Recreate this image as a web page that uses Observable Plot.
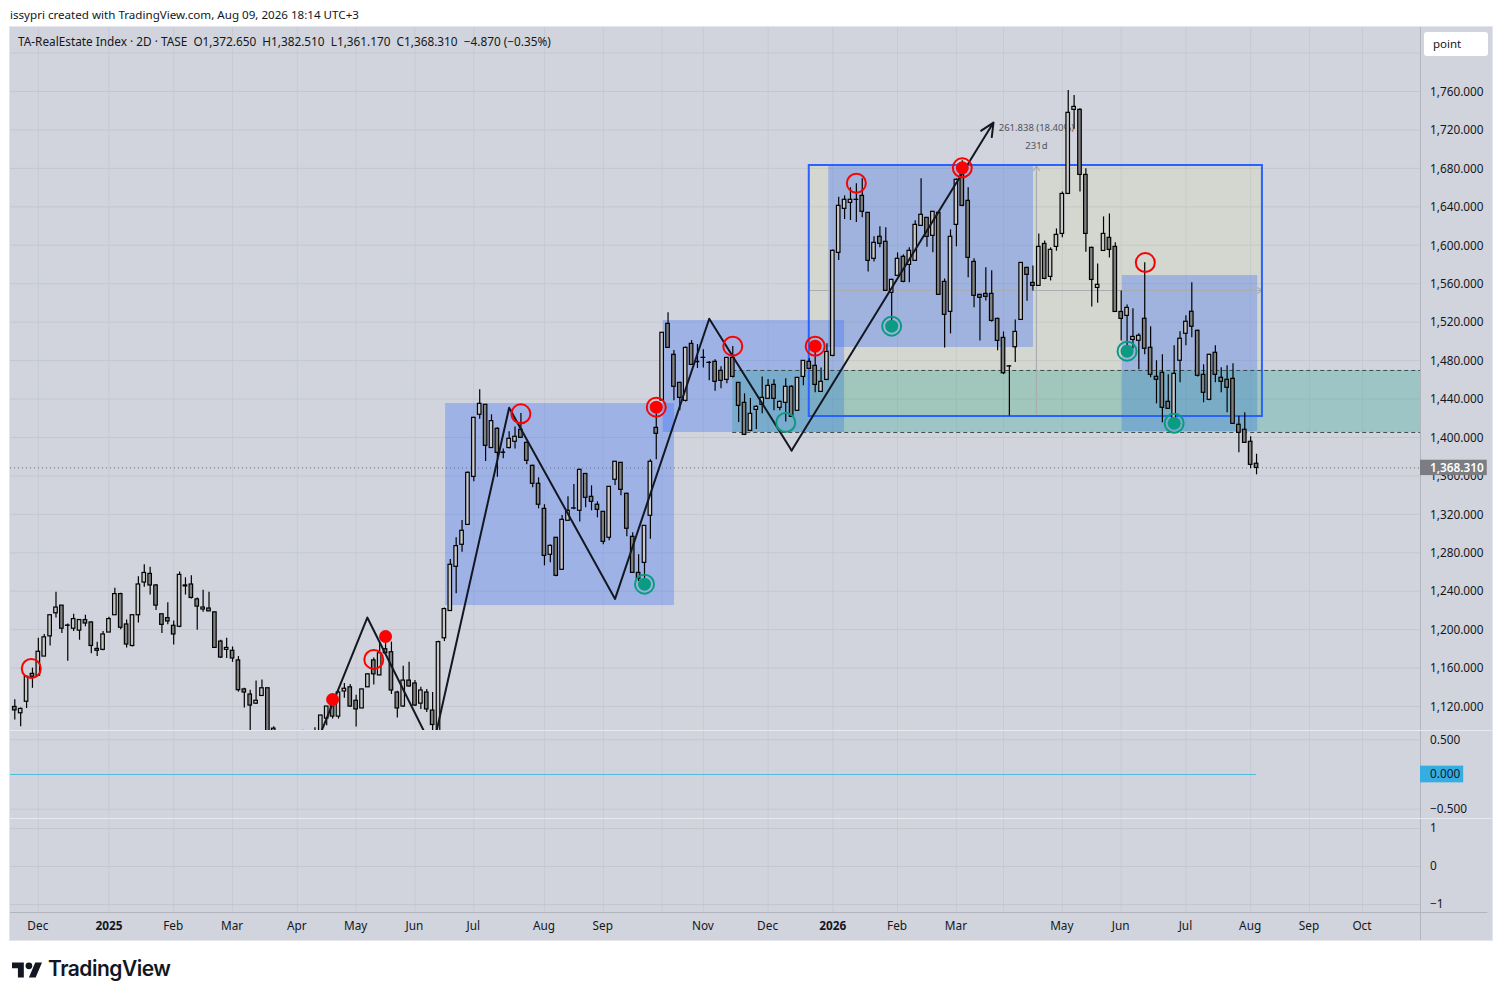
<!DOCTYPE html>
<html>
<head>
<meta charset="utf-8">
<script src="https://cdn.jsdelivr.net/npm/d3@7"></script>
<script src="https://cdn.jsdelivr.net/npm/@observablehq/plot@0.6"></script>
<style>
  html,body{margin:0;padding:0;background:#fff;width:1502px;height:1000px;overflow:hidden;font-family:"Noto Sans",sans-serif;color:#131722}
  .abs{position:absolute}
  #bg{left:10px;top:27px;width:1482px;height:913px;background:#d1d4dc;outline:1px solid #e4e6ec}
  #credit{left:10px;top:7px;font-size:11.6px;white-space:pre}
  #legend{left:18px;top:33px;font-size:11.8px;white-space:pre}
  #btn{left:1424px;top:32px;width:64px;height:24px;background:#fff;border-radius:3px;font-size:11.5px;line-height:24px;text-indent:9px}
  #brand{left:48px;top:956px;font:600 21px Inter,sans-serif;letter-spacing:-.5px}
  #logo{left:12px;top:962px}
  .sep{left:10px;width:1482px;height:1px;background:#e8e9f0}
  svg.p{position:absolute;left:0;background:transparent}
</style>
</head>
<body>
<div id="bg" class="abs"></div>
<div id="credit" class="abs">issypri created with TradingView.com, Aug 09, 2026 18:14 UTC+3</div>
<div id="host"></div>
<div class="abs sep" style="top:730px"></div>
<div class="abs sep" style="top:818px"></div>
<div id="legend" class="abs">TA-RealEstate Index · 2D · TASE  O1,372.650  H1,382.510  L1,361.170  C1,368.310  −4.870 (−0.35%)</div>
<div id="btn" class="abs">point</div>
<svg id="logo" class="abs" width="30" height="16" viewBox="0 4 35.5 18"><path fill="#131722" d="M14 22H7V11H0V4h14v18zM28 22h-8l7.5-18h8L28 22z"/><circle fill="#131722" cx="20" cy="8" r="4"/></svg>
<div id="brand" class="abs">TradingView</div>
<script>
const opens=[1119.6,1113,1125,1154,1152,1172,1193,1217,1225,1204.3,
1201,1199,1210,1207.5,1180,1179,1197,1215,1237,1205.4,
1183,1215,1249,1258,1246,1216,1212,1204,1203,1246,
1247,1231.5,1221,1222,1218,1187.6,1179,1178,1168,1137.8,
1132.5,1123,1131,1139,1097,1092,1083,1076,1080,1078,
1074,1075,1090,1107.4,1124,1109.5,1135.7,1140,1126,1118,
1140,1168,1152.4,1179.6,1176.5,1134.6,1120,1147,1144,1123,
1134.6,1115.8,1090,1191,1219.4,1265.4,1288.3,1309,1359,1423.6,
1434,1389,1409,1384.3,1389,1395.5,1408,1394.4,1370.5,1351.8,
1325.7,1277.9,1295.6,1262.3,1313.3,1326,1323.7,1362,1338.2,1330,
1322.6,1295.6,1356,1373.6,1341.4,1296.6,1259.1,1269.5,1318.5,1410,
1438.4,1518.2,1486,1456.8,1438.1,1497.4,1478.7,1482.9,1477.7,1478.7,
1469.3,1459.9,1482.8,1456.8,1436,1406.9,1428.7,1433.9,1440.2,1454.7,
1430.8,1436,1452.7,1427.7,1463,1478.7,1474.5,1447.4,1459.9,1484.9,
1592.1,1637.9,1644.1,1647.3,1651.4,1633.7,1585.9,1608.8,1603.6,1550.5,
1568.2,1588,1579.6,1583.8,1620.2,1628.5,1609.8,1633.7,1561.9,1530.7,
1621.2,1674.3,1646.2,1582.7,1548.4,1549.4,1549.4,1523.4,1503.6,1474,
1493.9,1522.3,1576.4,1560.8,1557.7,1601.4,1567.1,1598.3,1611.8,1653.4,
1740.9,1740.9,1673.2,1597.3,1555.6,1594.1,1607.7,1598.3,1530.6,1526.5,
1501.5,1500.6,1523.5,1493.3,1463.1,1467.3,1437.1,1419.4,1479.8,1507.9,
1530.8,1511,1465.2,1439.2,1488.1,1462.1,1460,1461,1413.2,1408,
1395.5,1372.65];
const highs=[1127,1118.6,1151,1160,1191,1195,1215,1239,1225,1206,
1216,1210,1215,1208,1187,1198,1213,1243,1238,1210,
1215,1255,1267.5,1265,1247,1216,1228,1209,1260,1254,
1256,1233,1241,1239,1218,1189,1191,1182,1172,1139,
1137,1146.5,1147.5,1139,1099,1094,1088,1084,1088,1090,
1086,1098,1111,1120,1126,1137,1144,1143,1131.8,1138,
1154,1170.5,1187,1187,1187,1136,1161.8,1166,1147,1140,
1137.8,1134.6,1188,1222.5,1273,1295.6,1313.6,1364,1421,1449.6,
1434,1423.6,1410,1388,1406,1411,1425,1395,1371,1358,
1330,1288,1296,1318.8,1338.2,1351,1367,1362.5,1349.7,1333,
1323,1349,1375,1374,1342,1300.8,1277.9,1308,1376.7,1424.6,
1509,1529.7,1490.5,1457.5,1494,1500.9,1496.7,1491.2,1479,1480.8,
1473.5,1483,1494.6,1457,1445.4,1440.5,1433,1463,1460.3,1460,
1438,1461,1453.7,1462.5,1480,1481.8,1495.7,1472.4,1497.4,1595,
1650,1651.4,1659.8,1663.9,1669.1,1634,1608.8,1619.2,1618.1,1564.5,
1592.1,1590,1597.3,1625.4,1669.1,1629,1635,1634,1565,1616,
1669,1688,1659.8,1585.9,1549,1576.5,1573.4,1524,1509.8,1475,
1522.3,1582,1577,1578.5,1611.8,1604.5,1597.3,1617,1655.5,1761,
1755.8,1742,1679.5,1598,1580.6,1629.5,1632.6,1602.5,1552.5,1537.9,
1533.9,1507.9,1581.8,1515.2,1479.8,1486,1465.2,1495.4,1510,1526.6,
1560.9,1511.5,1475.6,1486.5,1495.4,1472.5,1474.6,1476.7,1422,1425.7,
1400.7,1382.51];
const lows=[1106,1099,1118,1139,1152,1172,1183,1212,1196,1167,
1198,1189,1203,1175,1172,1178,1197,1215,1200,1181,
1182,1207,1244,1236,1220,1196,1205,1184,1202,1236,
1232,1199.5,1218,1219,1181,1170,1170,1166,1135,1118.6,
1090,1122,1131,1080,1085,1078,1072,1068,1074,1070,
1066,1070,1085,1100,1107,1107,1128.7,1119,1098.7,1118,
1140,1142.3,1152,1175,1132.5,1108,1119,1140,1120,1117,
1113.7,1095,1085,1187.6,1219,1237.3,1280.6,1309,1353.8,1419,
1375,1389,1358.7,1377.8,1388,1388,1399,1371.5,1347.6,1325.7,
1266.4,1269.5,1255,1262,1313,1324.7,1311.9,1326.8,1323.7,1316.4,
1288.3,1292.4,1350,1339.3,1296.6,1259,1250,1253,1294.2,1376.7,
1438,1493,1438.1,1427.7,1437,1475,1471.7,1472.4,1458.9,1448.1,
1450.6,1455.8,1462,1415.5,1402,1406,1408.3,1424.6,1440,1427.7,
1427.7,1416.2,1421,1427,1453.7,1471,1446.4,1447,1459,1484,
1584.1,1626.8,1625.8,1623.7,1628.5,1572.3,1582.7,1597.3,1552,1520,
1568,1561,1560.9,1583,1620,1598,1592.1,1548,1493.2,1507.8,
1598.4,1640,1566.1,1534.9,1500.5,1542,1520,1490.1,1465.4,1422.4,
1477.9,1522,1541.7,1552.5,1557,1564,1562.9,1593.8,1607.7,1653,
1720.8,1655.5,1592.7,1535.8,1539.7,1594,1586.8,1530,1500.5,1495.6,
1492.1,1470.4,1486,1462.1,1435,1415.3,1429,1417.7,1456.9,1495.4,
1503.7,1462.8,1436.1,1438.2,1456.9,1446.5,1425.7,1414,1384,1394,
1367.4,1361.17];
const closes=[1116,1117.5,1151,1151,1177,1192,1215,1223,1201,1204,
1211,1210,1206.4,1183,1178,1195,1211,1237,1202,1184.5,
1215,1247,1259,1246,1225,1205,1208.5,1195,1257,1245,
1233,1224,1223,1219,1181,1171,1181,1170,1137,1134.6,
1121,1126,1139,1085,1094,1082,1076,1080,1078,1074,
1082,1085,1110.6,1120,1109.5,1134.6,1138.5,1120,1117,1137.8,
1153.5,1153.5,1175.4,1175.4,1136.7,1118,1147,1140.9,1121,1136.7,
1117,1100.8,1187,1221.4,1267.5,1286.9,1302.9,1363.2,1420.4,1435,
1391.3,1417,1384,1384,1398.6,1400.7,1399.6,1375.7,1351.8,1330,
1276.8,1287.2,1256,1314.3,1323.7,1326.2,1366.3,1337.2,1333,1324.7,
1291.4,1348.6,1374.7,1345.5,1305,1259.1,1252.9,1308,1374.7,1403.8,
1508.9,1493.2,1452.7,1441.2,1493.2,1475.5,1478.3,1482.8,1477.6,1457.9,
1458.9,1482.8,1463,1432.9,1402.7,1424.6,1431.8,1441.2,1453.7,1440.2,
1437,1452.7,1421.4,1462,1479.7,1471.4,1454.7,1457.9,1489,1594.2,
1641,1647.3,1647.3,1647.2,1634.8,1583.8,1602.5,1601.5,1552.6,1564,
1585.9,1561.9,1594.2,1621.2,1631.7,1608.8,1634.8,1548.4,1527.6,1608.8,
1668.1,1641,1586.9,1547.4,1545.3,1546.3,1521.3,1500.5,1466.8,1473.8,
1509.8,1581.6,1569.2,1557.7,1598.3,1565,1595.2,1610.8,1653.4,1737.8,
1744,1673.2,1611.8,1563.9,1558.8,1611.8,1595.2,1530.6,1523.4,1534.8,
1504.6,1505.8,1492.3,1465.2,1460,1430.9,1429.8,1466.2,1502.7,1520.4,
1515.2,1464.2,1446.5,1486,1465.2,1457.9,1451.7,1414.2,1404.8,1394.4,
1371.5,1368.31];

// time axis: bar index of each month tick and its label
const tickBars=[4,16,27,37,48,58,68,78,90,100,110,117,128,139,150,160,168,178,188,199,210,220,229];
const tickLabels=["Dec","2025","Feb","Mar","Apr","May","Jun","Jul","Aug","Sep","","Nov","Dec","2026","Feb","Mar","","May","Jun","Jul","Aug","Sep","Oct"];

const priceTicks=[1120,1160,1200,1240,1280,1320,1360,1400,1440,1480,1520,1560,1600,1640,1680,1720,1760];
const priceGridExtra=[1800];

// blue zones
const zoneStart=[73.2,110.2,138.3,188.2];
const zoneEnd=[112.1,141,173.1,211.2];
const zoneLow=[1225.1,1405.2,1493.6,1406.2];
const zoneHigh=[1435.3,1521.7,1683,1568.5];

// teal zone and framed range
const tealStart=122, tealLow=1405.2, tealHigh=1469.7;
const frameStart=135, frameEnd=212, frameLow=1421.8, frameHigh=1683;
const measureBar=173.6, measurePrice=1552.9;

// zigzag pattern
const zigBars=[48,59.9,71,84,102,118,132,166.3];
const zigPrices=[1032,1212.6,1076.3,1431,1232,1523.5,1386.4,1727.7];

// signal markers
const ringBars=[2.8,61,86,122,143,192.1,109,136,161];
const ringPrices=[1159.6,1169,1424.6,1495,1664.6,1582,1431.5,1495,1680.6];
const dotBars=[54,63,49,109,136,161];
const dotPrices=[1127.3,1192.9,1089,1431.5,1495,1680.6];
const greenRingBars=[107,149,189,197,131];
const greenRingPrices=[1247.3,1515.8,1489.8,1414.8,1415.6];
const greenDotBars=[107,149,189,197];
const greenDotPrices=[1247.3,1515.8,1489.8,1414.8];

const lastPrice=1368.31;

const candles=opens.map((o,i)=>({i,o,h:highs[i],l:lows[i],c:closes[i],top:Math.max(o,closes[i]),bot:Math.min(o,closes[i]),up:closes[i]>=o}));
const zones=zoneStart.map((s,k)=>({s,e:zoneEnd[k],lo:zoneLow[k],hi:zoneHigh[k]}));
const zig=zigBars.map((x,k)=>({x,y:zigPrices[k]}));
const pts=(xs,ys)=>xs.map((x,k)=>({x,y:ys[k]}));
const ticks=tickBars.map((bar,k)=>({bar,label:tickLabels[k]}));

const W=1502, ML=10, MR=82;
const xDomain=[-0.73,238.86];
const RED="#ff0000", GREEN="#0a9b80", TXT="#131722", GRID="#c4c7d0", VGRID="#c7cad3", AXIS="#b2b5be";
const xOpt={domain:xDomain,axis:null};
const font='"Noto Sans",sans-serif';
const FS=11.8;
const vgrid=Plot.ruleX(tickBars,{stroke:VGRID,strokeWidth:1});
const vAxis=(y1,y2)=>Plot.ruleX([xDomain[1]],{y1,y2,stroke:AXIS,strokeWidth:1});
function mount(svg,top){svg.classList.add("p");svg.style.top=top+"px";document.getElementById("host").appendChild(svg);}

const main=Plot.plot({
  width:W,height:703,marginLeft:ML,marginRight:MR,marginTop:0,marginBottom:0,
  x:xOpt,y:{domain:[1095.06,1826.6],axis:null},
  style:{background:"transparent",fontFamily:font,fontSize:"12px"},
  marks:[
    vgrid,
    Plot.ruleY(priceTicks.concat(priceGridExtra),{stroke:GRID,strokeWidth:1}),
    Plot.rect([0],{x1:frameStart,x2:frameEnd,y1:frameLow,y2:frameHigh,fill:"#ffeb3b",fillOpacity:0.07}),
    Plot.rect(zones,{x1:"s",x2:"e",y1:"lo",y2:"hi",fill:"#2962ff",fillOpacity:0.3}),
    Plot.rect([0],{x1:tealStart,x2:xDomain[1],y1:tealLow,y2:tealHigh,fill:"#089981",fillOpacity:0.25}),
    Plot.ruleY([tealLow,tealHigh],{x1:tealStart,x2:xDomain[1],stroke:"#3a4a4a",strokeWidth:1,strokeDasharray:"4,3"}),
    Plot.ruleY([lastPrice],{stroke:"#6e7076",strokeWidth:1,strokeDasharray:"1,3"}),
    Plot.arrow([0],{x1:measureBar,x2:measureBar,y1:frameLow,y2:frameHigh,stroke:"#a9acb0",strokeWidth:1.2,headLength:7}),
    Plot.arrow([0],{x1:frameStart,x2:frameEnd,y1:measurePrice,y2:measurePrice,stroke:"#a9acb0",strokeWidth:1.2,headLength:7}),
    Plot.rect([0],{x1:frameStart,x2:frameEnd,y1:frameLow,y2:frameHigh,stroke:"#2962ff",strokeWidth:2,fill:"none"}),
    Plot.text(["261.838 (18.40%)"],{x:measureBar,y:1722.5,text:d=>d,fontSize:9.5,fill:"#50535e"}),
    Plot.text(["231d"],{x:measureBar,y:1703.8,text:d=>d,fontSize:9.5,fill:"#50535e"}),
    Plot.ruleX(candles,{x:"i",y1:"l",y2:"h",stroke:"#000",strokeWidth:1.2,clip:"frame"}),
    Plot.rect(candles.filter(d=>d.up),{x1:d=>d.i-0.3,x2:d=>d.i+0.3,y1:"bot",y2:"top",fill:"#c8c8c8",stroke:"#000",strokeWidth:1.2,clip:"frame"}),
    Plot.rect(candles.filter(d=>!d.up),{x1:d=>d.i-0.3,x2:d=>d.i+0.3,y1:"bot",y2:"top",fill:"#808080",stroke:"#000",strokeWidth:1.2,clip:"frame"}),
    Plot.line(zig.slice(0,-1),{x:"x",y:"y",stroke:"#131722",strokeWidth:2,clip:"frame"}),
    Plot.arrow([0],{x1:zig[6].x,y1:zig[6].y,x2:zig[7].x,y2:zig[7].y,stroke:"#131722",strokeWidth:2,headLength:11,headAngle:50}),
    Plot.dot(pts(ringBars,ringPrices),{x:"x",y:"y",r:9.5,stroke:RED,strokeWidth:2,fill:"none"}),
    Plot.dot(pts(dotBars,dotPrices),{x:"x",y:"y",r:6.5,fill:RED,clip:"frame"}),
    Plot.dot(pts(greenRingBars,greenRingPrices),{x:"x",y:"y",r:9.5,stroke:GREEN,strokeWidth:2,fill:"none"}),
    Plot.dot(pts(greenDotBars,greenDotPrices),{x:"x",y:"y",r:6.5,fill:GREEN}),
    vAxis(1095.06,1826.6),
    Plot.text(priceTicks,{y:d=>d,frameAnchor:"right",dx:9.5,dy:0.5,textAnchor:"start",text:d=>d3.format(",.3f")(d),fill:TXT,fontSize:FS}),
    Plot.rect([0],{x1:xDomain[1],x2:250.2,y1:lastPrice-8,y2:lastPrice+8,fill:"#7b7d83"}),
    Plot.text([lastPrice],{y:d=>d,frameAnchor:"right",dx:9.5,textAnchor:"start",text:d=>d3.format(",.3f")(d),fill:"#fff",fontSize:FS,fontWeight:600})
  ]
});
mount(main,27);

const mid=Plot.plot({
  width:W,height:88,marginLeft:ML,marginRight:MR,marginTop:0,marginBottom:0,
  x:xOpt,y:{domain:[-0.633,0.633],axis:null},
  style:{background:"transparent",fontFamily:font,fontSize:"12px"},
  marks:[
    vgrid,
    Plot.ruleY([-0.5,0.5],{stroke:GRID}),
    Plot.ruleY([0],{x1:xDomain[0],x2:211,stroke:"#55bad8",strokeWidth:1}),
    vAxis(-0.633,0.633),
    Plot.text([[0.5,"0.500"],[-0.5,"−0.500"]],{y:d=>d[0],text:d=>d[1],frameAnchor:"right",dx:9.5,textAnchor:"start",fill:TXT,fontSize:FS}),
    Plot.rect([0],{x1:xDomain[1],x2:246.2,y1:-0.12,y2:0.12,fill:"#36ade2"}),
    Plot.text(["0.000"],{y:0,text:d=>d,frameAnchor:"right",dx:9.5,textAnchor:"start",fill:TXT,fontSize:FS})
  ]
});
mount(mid,730);

const bottom=Plot.plot({
  width:W,height:122,marginLeft:ML,marginRight:MR,marginTop:0,marginBottom:28,
  x:xOpt,y:{domain:[-1.21,1.263],axis:null},
  style:{background:"transparent",fontFamily:font,fontSize:"12px"},
  marks:[
    vgrid,
    Plot.ruleY([-1,0,1],{stroke:GRID}),
    Plot.ruleY([-1.21],{x1:xDomain[0],x2:250.3,stroke:AXIS}),
    Plot.ruleX([xDomain[1]],{y1:1.263,y2:-1.95,stroke:AXIS}),
    Plot.text([[1,"1"],[0,"0"],[-1,"−1"]],{y:d=>d[0],text:d=>d[1],frameAnchor:"right",dx:9.5,textAnchor:"start",fill:TXT,fontSize:FS}),
    Plot.text(ticks.filter(d=>d.label&&!/^20/.test(d.label)),{x:"bar",text:"label",frameAnchor:"bottom",dy:17,dx:-0.5,fill:TXT,fontSize:FS}),
    Plot.text(ticks.filter(d=>/^20/.test(d.label)),{x:"bar",text:"label",frameAnchor:"bottom",dy:17,fill:TXT,fontSize:FS,fontWeight:700})
  ]
});
mount(bottom,818);
</script>
</body>
</html>
